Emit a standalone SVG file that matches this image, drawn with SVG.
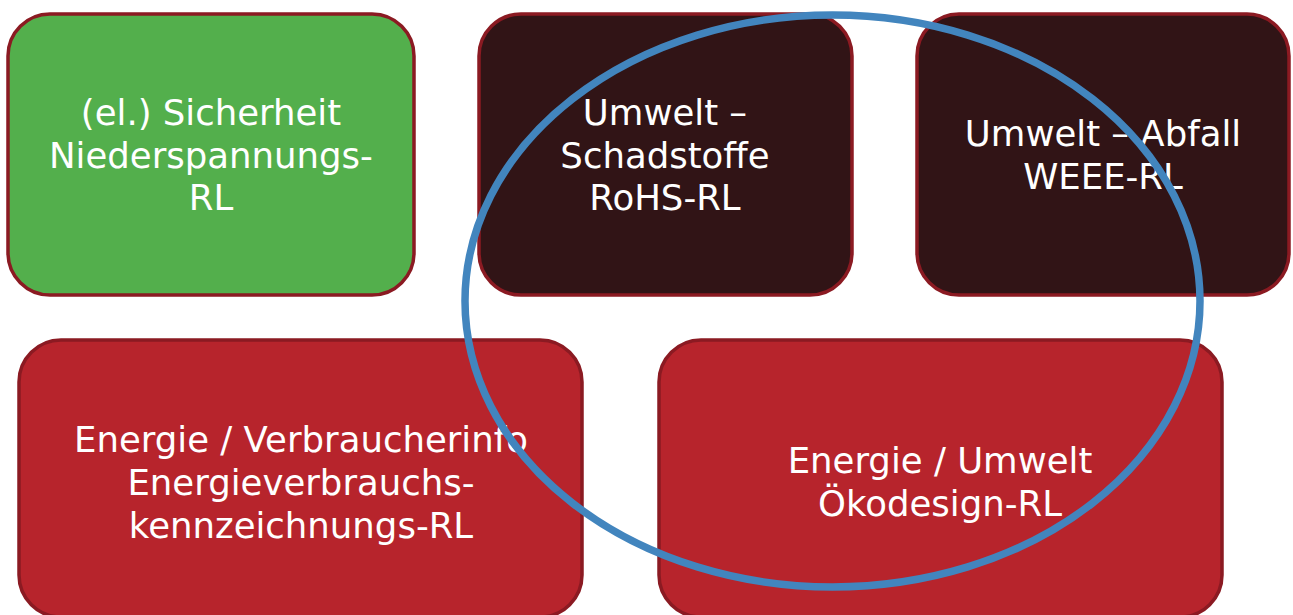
<svg xmlns="http://www.w3.org/2000/svg" width="1293" height="615" viewBox="0 0 1293 615">
  <style>
    .box { stroke: #8b1a22; stroke-width: 3.5; }
    .green { fill: #53af4c; }
    .dark { fill: #311416; }
    .red { fill: #b7242c; }
    .label { font-family: "DejaVu Sans", "Liberation Sans", sans-serif; font-size: 35.5px; fill: #ffffff; text-anchor: middle; }
    .ring { fill: none; stroke: #4285be; stroke-width: 7.5; }
  </style>

  <!-- Top row -->
  <g id="node-sicherheit">
    <rect class="box green" x="8" y="14" width="406" height="281" rx="42" ry="42"/>
    <text class="label" x="211" y="125">(el.) Sicherheit</text>
    <text class="label" x="211" y="168">Niederspannungs-</text>
    <text class="label" x="211" y="210">RL</text>
  </g>

  <g id="node-rohs">
    <rect class="box dark" x="479" y="14" width="373" height="281" rx="42" ry="42"/>
    <text class="label" x="665" y="125">Umwelt –</text>
    <text class="label" x="665" y="168">Schadstoffe</text>
    <text class="label" x="665" y="210">RoHS-RL</text>
  </g>

  <g id="node-weee">
    <rect class="box dark" x="917" y="14" width="372" height="281" rx="42" ry="42"/>
    <text class="label" x="1103" y="146">Umwelt – Abfall</text>
    <text class="label" x="1103" y="189">WEEE-RL</text>
  </g>

  <!-- Bottom row -->
  <g id="node-energielabel">
    <rect class="box red" x="19" y="340" width="563" height="277" rx="42" ry="42"/>
    <text class="label" x="301" y="452">Energie / Verbraucherinfo</text>
    <text class="label" x="301" y="495">Energieverbrauchs-</text>
    <text class="label" x="301" y="538">kennzeichnungs-RL</text>
  </g>

  <g id="node-oekodesign">
    <rect class="box red" x="659" y="340" width="563" height="277" rx="42" ry="42"/>
    <text class="label" x="940" y="473">Energie / Umwelt</text>
    <text class="label" x="940" y="516">Ökodesign-RL</text>
  </g>

  <!-- Grouping ring -->
  <g id="connectors">
    <ellipse class="ring" cx="832.5" cy="301" rx="367.5" ry="286"/>
  </g>
</svg>
